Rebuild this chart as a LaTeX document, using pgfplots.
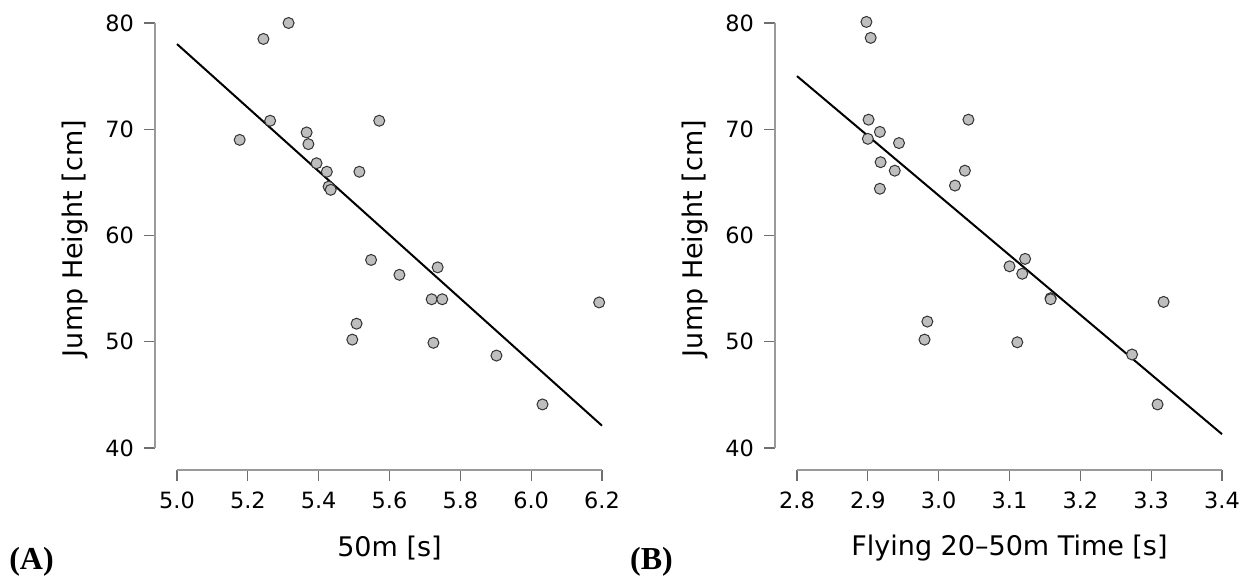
\documentclass[border=0pt]{standalone}
\usepackage{fontspec}
\setmainfont{DejaVu Sans}
\newfontfamily\panelfont{Liberation Serif}
\usepackage{pgfplots}
\usepackage{pgfplotstable}
\pgfplotsset{compat=1.18}

\definecolor{axisgray}{HTML}{9A9A9A}
\definecolor{tickgray}{HTML}{6E6E6E}
\definecolor{ptfill}{HTML}{BEBEBE}
\definecolor{ptdraw}{HTML}{333333}

\pgfplotstableread{
x y
5.315 80.0
5.244 78.5
5.263 70.8
5.177 69.0
5.366 69.7
5.371 68.6
5.394 66.8
5.423 66.0
5.428 64.6
5.434 64.3
5.515 66.0
5.571 70.8
5.548 57.7
5.628 56.3
5.736 57.0
5.507 51.7
5.495 50.2
5.719 54.0
5.749 54.0
5.724 49.9
5.902 48.7
6.032 44.1
6.192 53.7
}\dataA

\pgfplotstableread{
x y
2.898 80.1
2.904 78.6
2.901 70.9
2.900 69.1
2.917 69.75
2.944 68.7
2.918 66.9
2.938 66.1
2.917 64.4
3.023 64.7
3.037 66.1
3.042 70.9
3.100 57.1
3.122 57.8
3.118 56.4
2.984 51.9
2.980 50.2
3.111 49.95
3.158 54.1
3.158 54.0
3.3175 53.75
3.273 48.8
3.309 44.1
}\dataB

\pgfplotsset{
  jasp/.style={
    scale only axis, width=223.5pt, height=223.5pt,
    clip=false,
    axis x line*=bottom, axis y line*=left,
    axis line style={draw=none},
    tick align=outside, major tick length=5.5pt,
    tick style={tickgray, line width=0.6pt},
    tick label style={font=\fontsize{11.2}{13}\selectfont, black},
    yticklabel style={xshift=-1.5pt},
    xticklabel style={yshift=-1.8pt},
    /pgf/number format/assume math mode=true,
    ymin=37.93, ymax=80, ytick={40,50,60,70,80},
    label style={font=\fontsize{13.5}{16}\selectfont, black},
    xlabel style={at={(axis description cs:0.5246,-0.1756)}, anchor=center},
    ylabel style={at={(axis description cs:-0.179,0.518)}, anchor=center},
    ylabel={Jump Height [cm]},
  },
  pts/.style={only marks, mark=*, mark size=2.75pt,
    mark options={fill=ptfill, draw=ptdraw, line width=0.5pt}},
  fit/.style={black, line width=1pt, no marks},
}

\begin{document}
\begin{tikzpicture}
\useasboundingbox (0,0) rectangle (625.5pt,289pt);

\begin{axis}[jasp, at={(77.5pt,54pt)}, anchor=south west,
  xmin=4.93789, xmax=6.2,
  xtick={5.0,5.2,5.4,5.6,5.8,6.0,6.2},
  xticklabel style={/pgf/number format/.cd, fixed, fixed zerofill, precision=1},
  xlabel={50m [s]}]
  \draw[axisgray, line width=0.7pt] (axis cs:4.93789,40) -- (axis cs:4.93789,80);
  \draw[axisgray, line width=0.7pt] (axis cs:5.0,37.93) -- (axis cs:6.2,37.93);
  \addplot[fit] coordinates {(5.0,78.02) (6.2,42.1)};
  \addplot[pts] table[x=x, y=y] {\dataA};
  \node[font=\panelfont\bfseries\fontsize{16}{18}\selectfont, anchor=center]
    at (axis description cs:-0.2763,-0.2058) {(A)};
\end{axis}

\begin{axis}[jasp, at={(387.5pt,54pt)}, anchor=south west,
  xmin=2.76894, xmax=3.4,
  xtick={2.8,2.9,3.0,3.1,3.2,3.3,3.4},
  xticklabel style={/pgf/number format/.cd, fixed, fixed zerofill, precision=1},
  xlabel={Flying 20\textendash50m Time [s]}]
  \draw[axisgray, line width=0.7pt] (axis cs:2.76894,40) -- (axis cs:2.76894,80);
  \draw[axisgray, line width=0.7pt] (axis cs:2.8,37.93) -- (axis cs:3.4,37.93);
  \addplot[fit] coordinates {(2.8,75.0) (3.4,41.3)};
  \addplot[pts] table[x=x, y=y] {\dataB};
  \node[font=\panelfont\bfseries\fontsize{16}{18}\selectfont, anchor=center]
    at (axis description cs:-0.2763,-0.2058) {(B)};
\end{axis}
\end{tikzpicture}
\end{document}
